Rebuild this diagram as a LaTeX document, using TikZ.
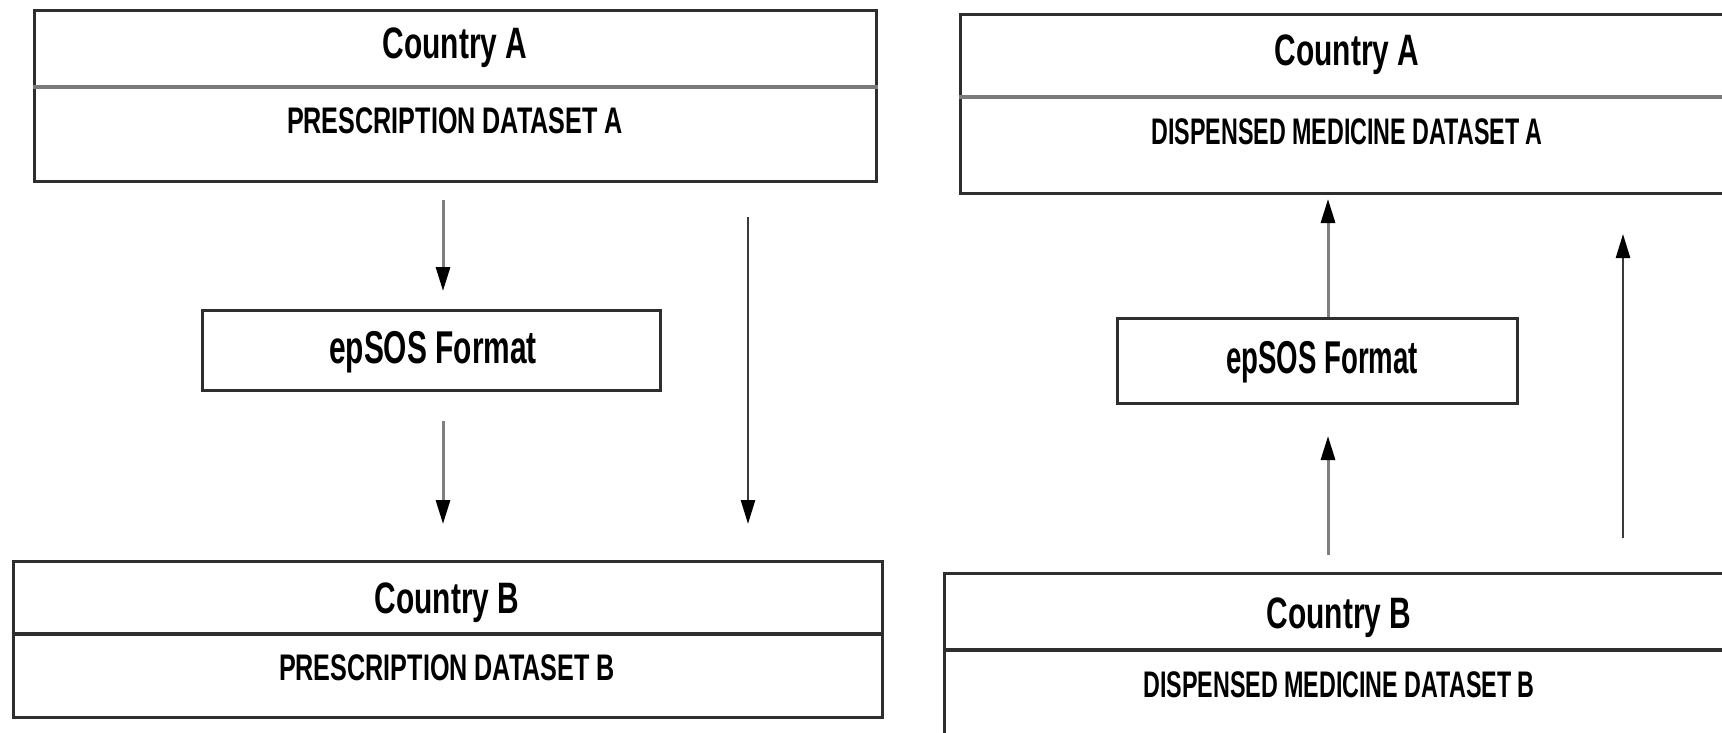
\documentclass[tikz,border=0pt]{standalone}
\usepackage{fontspec}
\newfontfamily\condfont[FakeStretch=0.68]{Liberation Sans}
\newfontfamily\condnarrow[FakeStretch=0.63]{Liberation Sans}
\newfontfamily\condmid[FakeStretch=0.65]{Liberation Sans}
\newfontfamily\condslim[FakeStretch=0.60]{Liberation Sans}
\usetikzlibrary{arrows.meta}
\definecolor{shaft}{HTML}{7F7F7F}
\definecolor{darkshaft}{HTML}{3A3A3A}
\definecolor{border}{HTML}{2E2E2E}
\definecolor{divgray}{HTML}{7A7A7A}
\begin{document}
\begin{tikzpicture}[x=1pt,y=-1pt,
  box/.style={draw=border, line width=3pt, fill=white, inner sep=0pt},
  divline/.style={draw=divgray, line width=3.5pt},
  ctry/.style={anchor=base, inner sep=0pt, font=\condfont\bfseries\fontsize{44}{50}\selectfont},
  dsetP/.style={anchor=base, inner sep=0pt, font=\condfont\bfseries\fontsize{37}{42}\selectfont},
  dsetD/.style={anchor=base, inner sep=0pt, font=\condnarrow\bfseries\fontsize{37}{42}\selectfont},
  fmt/.style={anchor=base, inner sep=0pt, font=\condmid\bfseries\fontsize{46}{52}\selectfont},
  fmtslim/.style={anchor=base, inner sep=0pt, font=\condslim\bfseries\fontsize{46}{52}\selectfont},
  arr/.style={draw=shaft, line width=3pt, -{Triangle[width=14pt,length=24pt,black]}},
  longarr/.style={draw=darkshaft, line width=2.5pt, -{Triangle[width=14pt,length=24pt,black]}}
]
\useasboundingbox (0,0) rectangle (1722,733);
\clip (0,0) rectangle (1722,733);

% ---------- left part ----------
\node[box, minimum width=842pt, minimum height=171pt] (ta) at (455,96.5) {};
\draw[divline] (ta.west |- 0,87) -- (ta.east |- 0,87);
\node[ctry] (taC) at (455,59) {Country A};
\node[dsetP] (taD) at (455,134) {PRESCRIPTION DATASET A};

\node[box, minimum width=458pt, minimum height=80pt] (eL) at (431,350) {};
\node[fmt] (eLT) at (433,363) {epSOS Format};

\node[box, minimum width=869pt, minimum height=156pt] (tb) at (447.5,639) {};
\draw[divline, draw=border] (tb.west |- 0,634) -- (tb.east |- 0,634);
\node[ctry] (tbC) at (447,613) {Country B};
\node[dsetP] (tbD) at (447,680) {PRESCRIPTION DATASET B};

\coordinate (L1a) at (443,200);
\coordinate (L1b) at (443,291);
\coordinate (L2a) at (443,421);
\coordinate (L2b) at (443,524);
\coordinate (L3a) at (748,217);
\coordinate (L3b) at (748,524);
\draw[arr] (L1a) -- (L1b);
\draw[arr] (L2a) -- (L2b);
\draw[longarr] (L3a) -- (L3b);

% ---------- right part ----------
\node[box, minimum width=790pt, minimum height=178pt] (ra) at (1355,104) {};
\draw[divline] (ra.west |- 0,97) -- (ra.east |- 0,97);
\node[ctry] (raC) at (1347,66) {Country A};
\node[dsetD] (raD) at (1347,145) {DISPENSED MEDICINE DATASET A};

\node[box, minimum width=400pt, minimum height=85pt] (eR) at (1317,360.5) {};
\node[fmtslim] (eRT) at (1322,373) {epSOS Format};

\node[box, minimum width=806pt, minimum height=190pt] (rb) at (1347,668) {};
\draw[divline, draw=border] (rb.west |- 0,650) -- (rb.east |- 0,650);
\node[ctry] (rbC) at (1339,628) {Country B};
\node[dsetD] (rbD) at (1339,697) {DISPENSED MEDICINE DATASET B};

\coordinate (R1b) at (1328,199);
\coordinate (R2a) at (1328,555);
\coordinate (R2b) at (1328,436);
\coordinate (R3a) at (1623,538);
\coordinate (R3b) at (1623,234);
\draw[arr] (eR.north -| R1b) -- (R1b);
\draw[arr] (R2a) -- (R2b);
\draw[longarr] (R3a) -- (R3b);
\end{tikzpicture}
\end{document}
